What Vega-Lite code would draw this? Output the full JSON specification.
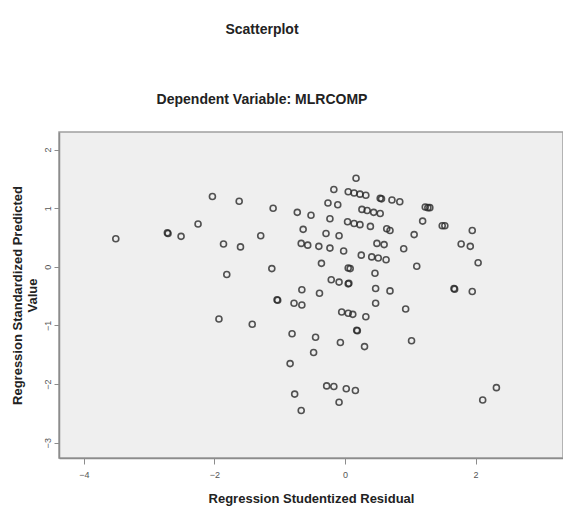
{
  "$schema": "https://vega.github.io/schema/vega-lite/v6.json",
  "width": 504,
  "height": 326,
  "autosize": {"type": "none"},
  "padding": {"left": 59, "top": 132, "right": 0, "bottom": 51},
  "background": "white",
  "title": {
    "text": "Scatterplot",
    "subtitle": "Dependent Variable: MLRCOMP",
    "anchor": "middle",
    "dx": -49,
    "offset": 25,
    "subtitlePadding": 56,
    "font": "Liberation Sans",
    "fontSize": 14,
    "fontWeight": "bold",
    "color": "#222",
    "subtitleFont": "Liberation Sans",
    "subtitleFontSize": 14,
    "subtitleFontWeight": "bold",
    "subtitleColor": "#222"
  },
  "config": {
    "view": {"fill": "#efefef", "stroke": "#a0a0a0", "strokeWidth": 1.5},
    "axis": {
      "grid": false,
      "domainColor": "#8c8c8c",
      "domainWidth": 1.5,
      "tickColor": "#8c8c8c",
      "tickSize": 6,
      "labelColor": "#555",
      "labelFont": "Liberation Sans",
      "labelFontSize": 9,
      "titleFont": "Liberation Sans",
      "titleFontSize": 13,
      "titleFontWeight": "bold",
      "titleColor": "#222"
    }
  },
  "data": {
    "values": [
      {"resid": -3.51, "pred": 0.48},
      {"resid": -2.72, "pred": 0.58},
      {"resid": -2.71, "pred": 0.57},
      {"resid": -2.51, "pred": 0.52},
      {"resid": -2.25, "pred": 0.73},
      {"resid": -2.03, "pred": 1.2},
      {"resid": -1.62, "pred": 1.12},
      {"resid": -1.1, "pred": 1.0},
      {"resid": -1.86, "pred": 0.39},
      {"resid": -1.6, "pred": 0.34},
      {"resid": -1.29, "pred": 0.53},
      {"resid": -1.12, "pred": -0.03},
      {"resid": -1.81, "pred": -0.13},
      {"resid": -1.04, "pred": -0.56},
      {"resid": -1.03, "pred": -0.57},
      {"resid": -1.93, "pred": -0.89},
      {"resid": -1.42, "pred": -0.98},
      {"resid": 0.17, "pred": 1.51},
      {"resid": -0.17, "pred": 1.32},
      {"resid": 0.05, "pred": 1.28},
      {"resid": 0.14, "pred": 1.26},
      {"resid": 0.23, "pred": 1.24},
      {"resid": 0.32, "pred": 1.22},
      {"resid": 0.54, "pred": 1.17},
      {"resid": 0.56, "pred": 1.16},
      {"resid": 0.72, "pred": 1.14},
      {"resid": 0.84, "pred": 1.11},
      {"resid": 1.23, "pred": 1.02},
      {"resid": 1.27, "pred": 1.01},
      {"resid": 1.3, "pred": 1.01},
      {"resid": -0.73, "pred": 0.93},
      {"resid": -0.52, "pred": 0.88},
      {"resid": -0.26, "pred": 1.09},
      {"resid": -0.11, "pred": 1.06},
      {"resid": -0.23, "pred": 0.82},
      {"resid": 0.26, "pred": 0.98},
      {"resid": 0.34, "pred": 0.96},
      {"resid": 0.44, "pred": 0.93},
      {"resid": 0.54, "pred": 0.91},
      {"resid": -0.64, "pred": 0.64},
      {"resid": -0.29, "pred": 0.57},
      {"resid": -0.09, "pred": 0.53},
      {"resid": 0.04, "pred": 0.77},
      {"resid": 0.14, "pred": 0.74},
      {"resid": 0.23, "pred": 0.72},
      {"resid": 0.39, "pred": 0.69},
      {"resid": 0.64, "pred": 0.65},
      {"resid": 0.69, "pred": 0.62},
      {"resid": 1.06, "pred": 0.55},
      {"resid": 1.19, "pred": 0.78},
      {"resid": 1.49, "pred": 0.7},
      {"resid": 1.53, "pred": 0.7},
      {"resid": 1.95, "pred": 0.62},
      {"resid": 1.78, "pred": 0.39},
      {"resid": 1.92, "pred": 0.35},
      {"resid": 2.04, "pred": 0.07},
      {"resid": -0.67, "pred": 0.4},
      {"resid": -0.57, "pred": 0.37},
      {"resid": -0.4, "pred": 0.35},
      {"resid": -0.23, "pred": 0.32},
      {"resid": -0.02, "pred": 0.27},
      {"resid": 0.25, "pred": 0.2},
      {"resid": 0.49, "pred": 0.4},
      {"resid": 0.6, "pred": 0.38},
      {"resid": 0.9, "pred": 0.31},
      {"resid": 0.41, "pred": 0.17},
      {"resid": 0.51, "pred": 0.15},
      {"resid": 0.63, "pred": 0.12},
      {"resid": -0.36, "pred": 0.06},
      {"resid": 0.05, "pred": -0.02},
      {"resid": 0.08, "pred": -0.03},
      {"resid": 1.1, "pred": 0.01},
      {"resid": 0.46, "pred": -0.11},
      {"resid": -0.21, "pred": -0.22},
      {"resid": -0.09, "pred": -0.26},
      {"resid": 0.05, "pred": -0.29},
      {"resid": 0.06, "pred": -0.28},
      {"resid": -0.66, "pred": -0.39},
      {"resid": -0.39, "pred": -0.45},
      {"resid": 0.47, "pred": -0.37},
      {"resid": 0.69, "pred": -0.41},
      {"resid": 1.67, "pred": -0.37},
      {"resid": 1.68, "pred": -0.38},
      {"resid": 1.95, "pred": -0.42},
      {"resid": -0.78, "pred": -0.62},
      {"resid": -0.66, "pred": -0.65},
      {"resid": 0.47, "pred": -0.62},
      {"resid": 0.93, "pred": -0.72},
      {"resid": -0.05, "pred": -0.77},
      {"resid": 0.05, "pred": -0.79},
      {"resid": 0.12, "pred": -0.81},
      {"resid": 0.32, "pred": -0.85},
      {"resid": -0.81, "pred": -1.14},
      {"resid": -0.45, "pred": -1.2},
      {"resid": -0.48, "pred": -1.46},
      {"resid": -0.84, "pred": -1.65},
      {"resid": -0.07, "pred": -1.29},
      {"resid": 0.18, "pred": -1.08},
      {"resid": 0.19, "pred": -1.09},
      {"resid": 0.3, "pred": -1.36},
      {"resid": 1.02, "pred": -1.26},
      {"resid": -0.28, "pred": -2.03},
      {"resid": -0.17, "pred": -2.04},
      {"resid": 0.02, "pred": -2.08},
      {"resid": 0.16, "pred": -2.11},
      {"resid": -0.09, "pred": -2.31},
      {"resid": -0.77, "pred": -2.17},
      {"resid": -0.67, "pred": -2.45},
      {"resid": 2.11, "pred": -2.27},
      {"resid": 2.32, "pred": -2.06}
    ]
  },
  "mark": {"type": "point", "shape": "circle", "filled": false, "size": 36, "strokeWidth": 1.6, "color": "#2a2a2a", "opacity": 0.8},
  "encoding": {
    "x": {
      "field": "resid",
      "type": "quantitative",
      "scale": {"domain": [-4.38, 3.34], "nice": false, "zero": false},
      "axis": {"values": [-4, -2, 0, 2], "title": "Regression Studentized Residual", "labelPadding": 6, "titlePadding": 13}
    },
    "y": {
      "field": "pred",
      "type": "quantitative",
      "scale": {"domain": [-3.26, 2.3], "nice": false, "zero": false},
      "axis": {"values": [-3, -2, -1, 0, 1, 2], "title": ["Regression Standardized Predicted", "Value"], "labelAngle": 270, "labelPadding": 2, "titlePadding": 4, "tickSize": 5}
    }
  }
}
